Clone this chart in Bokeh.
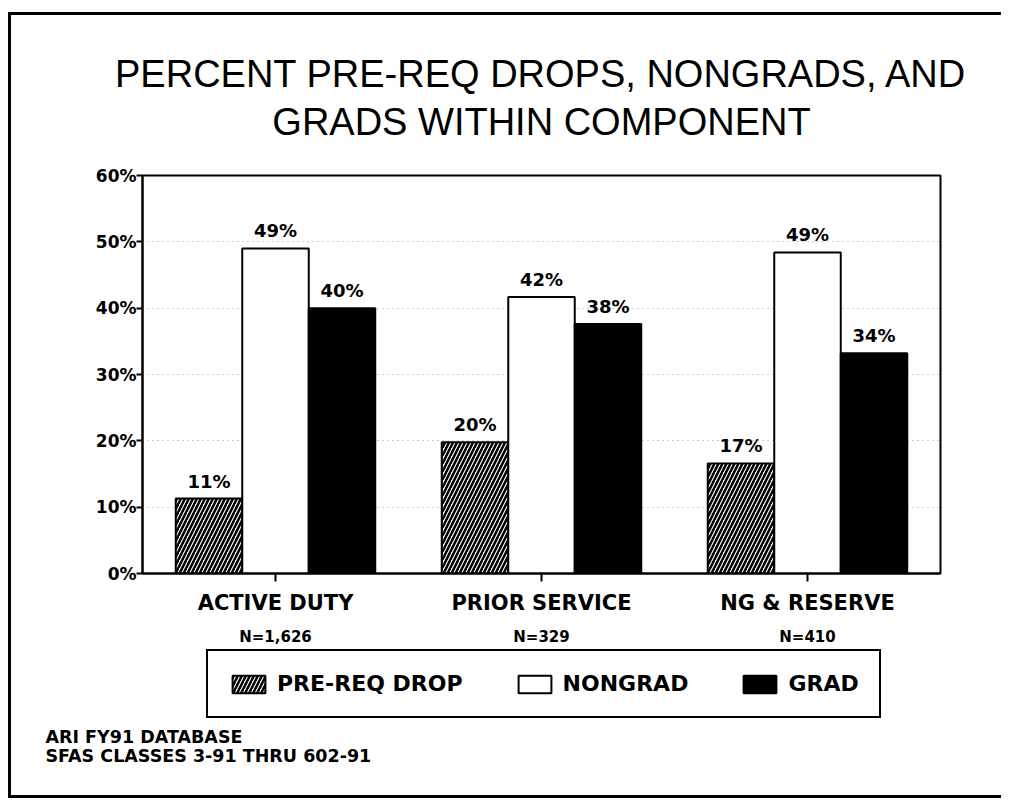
from bokeh.plotting import figure
from bokeh.layouts import column
from bokeh.models import (FactorRange, Range1d, Legend, LegendItem, Label,
                          FixedTicker, ColumnDataSource, CategoricalAxis)
from bokeh.transform import dodge
from bokeh.core.properties import value
from bokeh.embed import file_html
from bokeh.resources import INLINE

# ---------------- data ----------------
categories = ["ACTIVE DUTY", "PRIOR SERVICE", "NG & RESERVE"]
sample_sizes = ["N=1,626", "N=329", "N=410"]
series_names = ["PRE-REQ DROP", "NONGRAD", "GRAD"]
prereq_drop = [11.3, 19.8, 16.6]
nongrad = [49.0, 41.7, 48.4]
grad = [40.0, 37.6, 33.2]
prereq_labels = ["11%", "20%", "17%"]
nongrad_labels = ["49%", "42%", "49%"]
grad_labels = ["40%", "38%", "34%"]
y_ticks = [0, 10, 20, 30, 40, 50, 60]
y_tick_labels = ["0%", "10%", "20%", "30%", "40%", "50%", "60%"]
title_lines = ["PERCENT PRE-REQ DROPS, NONGRADS, AND", "GRADS WITHIN COMPONENT"]
footnotes = ["ARI FY91 DATABASE", "SFAS CLASSES 3-91 THRU 602-91"]

BOLD_FONT = "DejaVu Sans"
TITLE_FONT = "Liberation Sans"
bar_styles = [
    dict(fill_color="white", line_color="black", line_width=2,
         hatch_pattern="/", hatch_color="black", hatch_weight=2.5, hatch_scale=8),
    dict(fill_color="white", line_color="black", line_width=2),
    dict(fill_color="black", line_color="black", line_width=2),
]

W = 990
HT, HP = 145, 489            # title strip, chart
HQ = 780 - HT - HP           # legend/footnote strip
FRAME_L, FRAME_R, FRAME_T, FRAME_B = 131, 929, 15, 413

# ---------- title strip ----------
t = figure(x_range=Range1d(0, W), y_range=Range1d(HT, 0), width=W, height=HT,
           output_backend="svg", toolbar_location=None, min_border=0,
           x_axis_type=None, y_axis_type=None, outline_line_color=None)
t.frame_align = False
t.grid.visible = False
for i, line in enumerate(title_lines):
    t.add_layout(Label(x=530, y=58 + 48 * i, text=line, text_align="center",
                       text_baseline="middle", text_font=TITLE_FONT,
                       text_font_size="38px", text_color="black"))

# ---------- chart ----------
src = ColumnDataSource(dict(cat=categories, pre=prereq_drop, non=nongrad, grad=grad,
                            pre_l=prereq_labels, non_l=nongrad_labels, grad_l=grad_labels))

p = figure(x_range=FactorRange(*categories), y_range=Range1d(0, 60), title=None,
           width=W, height=HP, output_backend="svg", toolbar_location=None,
           min_border_left=FRAME_L, min_border_right=W - FRAME_R,
           min_border_top=FRAME_T, min_border_bottom=HP - FRAME_B)
p.frame_align = False
p.x_range.range_padding = 0
p.extra_x_ranges = {"n": FactorRange(*sample_sizes)}

p.xgrid.grid_line_color = None
p.ygrid.ticker = FixedTicker(ticks=y_ticks)
p.ygrid.grid_line_color = "#a0a0a0"
p.ygrid.grid_line_dash = "1 4"
p.ygrid.grid_line_width = 1

bw = 0.25
cols = ["pre", "non", "grad"]
labs = ["pre_l", "non_l", "grad_l"]
offs = [-bw, 0, bw]
for off, col, lab, st in zip(offs, cols, labs, bar_styles):
    p.vbar(x=dodge("cat", off, range=p.x_range), top=col, width=bw, source=src, **st)
    p.text(x=dodge("cat", off, range=p.x_range), y=col, text=lab, source=src,
           text_align="center", text_baseline="bottom", y_offset=-7,
           text_font=value(BOLD_FONT), text_font_style="bold", text_font_size="18px",
           text_color="black")

p.yaxis.ticker = FixedTicker(ticks=y_ticks)
p.yaxis.major_label_overrides = {t_: l for t_, l in zip(y_ticks, y_tick_labels)}
p.yaxis.minor_tick_line_color = None
p.yaxis.major_tick_in = 0
p.yaxis.major_tick_out = 6
p.yaxis.major_tick_line_width = 2
p.yaxis.axis_line_width = 2
p.yaxis.major_label_text_font = BOLD_FONT
p.yaxis.major_label_text_font_style = "bold"
p.yaxis.major_label_text_font_size = "17px"
p.yaxis.major_label_text_color = "black"
p.yaxis.major_label_standoff = 0

p.xaxis.major_tick_in = 0
p.xaxis.major_tick_out = 8
p.xaxis.major_tick_line_width = 2
p.xaxis.axis_line_width = 2
p.xaxis.major_label_text_font = BOLD_FONT
p.xaxis.major_label_text_font_style = "bold"
p.xaxis.major_label_text_font_size = "21px"
p.xaxis.major_label_text_color = "black"
p.xaxis.major_label_standoff = 9

n_axis = CategoricalAxis(x_range_name="n",
                         axis_line_color=None, major_tick_line_color=None,
                         minor_tick_line_color=None, major_label_standoff=4,
                         major_label_text_font=BOLD_FONT,
                         major_label_text_font_style="bold",
                         major_label_text_font_size="15px",
                         major_label_text_color="black")
p.add_layout(n_axis, "below")

p.outline_line_color = "black"
p.outline_line_width = 2
p.outline_line_alpha = 1

# ---------- legend + footnotes strip ----------
q = figure(x_range=Range1d(0, W), y_range=Range1d(HQ, 0), width=W, height=HQ,
           output_backend="svg", toolbar_location=None, min_border=0,
           x_axis_type=None, y_axis_type=None, outline_line_color=None)
q.frame_align = False
q.grid.visible = False

# hidden proxy renderers (same styles and data as the bars) to draw the legend swatches
proxies = [q.vbar(x=0, top=col, width=1, source=src, visible=False, **st)
           for col, st in zip(cols, bar_styles)]
legend = Legend(items=[LegendItem(label=n, renderers=[r]) for n, r in zip(series_names, proxies)],
                location=(195, HQ - 69), orientation="horizontal",
                border_line_color="black", border_line_width=2, border_line_alpha=1,
                background_fill_color="white", background_fill_alpha=1,
                padding=20, spacing=51, margin=0, glyph_width=41, glyph_height=22,
                label_standoff=8, label_text_font=BOLD_FONT, label_text_color="black",
                label_text_font_style="bold", label_text_font_size="22px")
q.add_layout(legend)

for i, f in enumerate(footnotes):
    q.add_layout(Label(x=34, y=(736.5 - 15 - HT - HP) + 18.5 * i, text=f, text_align="left",
                       text_baseline="middle", text_font=BOLD_FONT,
                       text_font_style="bold", text_font_size="17.5px",
                       text_color="black"))

layout = column(t, p, q, spacing=0,
                styles={"margin-left": "8px", "margin-top": "12px",
                        "border-left": "3px solid black", "border-top": "3px solid black",
                        "border-bottom": "3px solid black"})

open("out.html", "w").write(file_html(layout, INLINE))
